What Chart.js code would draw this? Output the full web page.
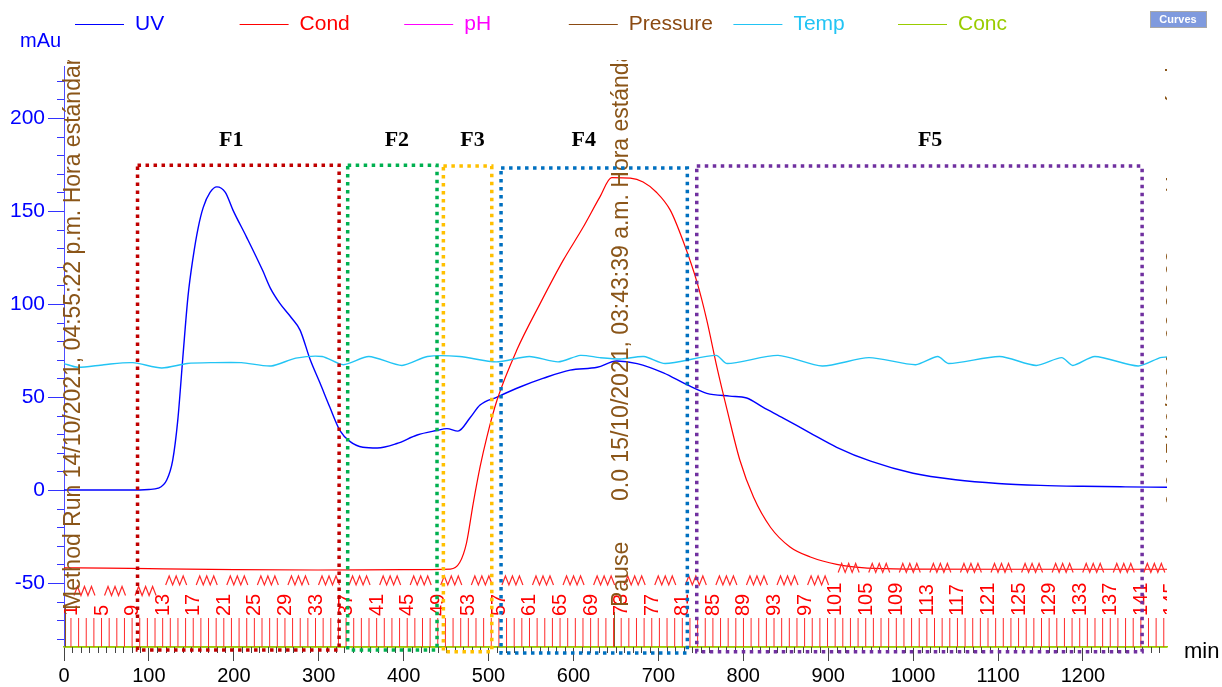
<!DOCTYPE html>
<html>
<head>
<meta charset="utf-8">
<title>Chromatogram</title>
<script src="https://cdn.jsdelivr.net/npm/chart.js@4.4.1/dist/chart.umd.min.js"></script>
<style>
  html, body { margin: 0; padding: 0; background: #fff; }
  #wrap { width: 1222px; height: 687px; }
</style>
</head>
<body>
<div id="wrap"><canvas id="chart" width="1222" height="687"></canvas></div>
<script>
// UV (mAu) vs time (min)
const uvTime  = [0, 40, 78, 100, 111, 121, 128, 134, 140, 146, 152, 158, 164, 172, 180, 190, 199, 215, 234, 243, 254, 268, 278, 290, 301.5, 313, 325, 337, 352, 369, 392, 416, 439, 451, 464, 478, 490, 510, 537, 564, 596, 628, 651, 675, 706, 734, 757, 784, 804, 823, 847, 879, 910, 950, 1000, 1050, 1100, 1150, 1200, 1250, 1299];
const uvValue = [0, 0, 0, 0.3, 1, 5.4, 16, 37.6, 71.5, 104, 125, 141, 152, 160, 163, 160, 150.5, 136, 118, 108.6, 100.5, 92.5, 86, 70, 57.5, 44.6, 32, 26, 23, 22.6, 25, 29.6, 32, 33, 31.7, 38.7, 45.7, 50, 55.4, 60, 64.5, 66, 69.4, 68, 63, 56.5, 52, 50.5, 49.5, 44.6, 38.7, 30.6, 23, 15.5, 9, 5.5, 3.5, 2.5, 2, 1.7, 1.5];

// Conductivity (drawn on the mAu scale as in the original)
const condTime  = [0, 50, 100, 200, 300, 400, 455, 466, 474, 482, 490, 498, 510, 533, 561, 588, 611, 631, 645, 667, 682, 698, 714, 729, 746, 757, 769, 781, 796, 812, 832, 855, 879, 910, 946, 1000, 1100, 1200, 1299];
const condValue = [-41.8, -42, -42.3, -42.8, -43, -42.8, -42.5, -39, -28.5, -7, 12.4, 28.5, 48.4, 75, 100.5, 123.6, 141, 157.5, 168, 167.7, 165.6, 160, 150.5, 134, 111, 91.4, 66, 43, 16, -3.8, -20, -30.6, -36, -40, -42, -42.5, -42.6, -42.6, -42.6];

// Temperature
const tempTime  = [0, 16, 47, 81, 115, 145, 175, 209, 244, 273, 304, 329, 359, 398, 428, 466, 509, 548, 582, 608, 631, 657, 683, 708, 768, 781, 841, 893, 948, 1003, 1029, 1042, 1102, 1145, 1175, 1188, 1214, 1265, 1291, 1299];
const tempValue = [68, 66, 67.4, 68.5, 65.6, 68, 68.5, 68.5, 66.7, 70.9, 71.8, 67.4, 71.8, 67, 71.8, 71.8, 68.9, 71.8, 68.9, 72.4, 71.2, 70.5, 71.8, 68, 72.4, 68, 72.4, 66.7, 71.2, 67.4, 71.8, 68, 71.8, 67, 71.2, 67, 71.8, 66.7, 71.2, 71.5];

// Concentration (% B)
const concTime  = [0, 1299];
const concValue = [0, 0];

// legend entries
const seriesNames = ['UV', 'Cond', 'pH', 'Pressure', 'Temp', 'Conc'];

// fraction collector
const fractionFirst = 8.2;   // min
const fractionWidth = 9;     // min
const fractionCount = 145;
const zigFromFraction = [1, 13, 101];
const zigLevel        = [-54.3, -48.6, -41.9];

// pooled fractions
const poolLabels = ['F1', 'F2', 'F3', 'F4', 'F5'];
const poolStart  = [86.6, 334.1, 446.8, 514.7, 745.2];
const poolEnd    = [324.0, 439.3, 503.8, 734.1, 1269.7];
const poolTop    = [174.7, 174.7, 174.2, 173.1, 174.2];
const poolBottom = [-86, -86, -87, -87.6, -87];
const poolLabelX = [197, 392, 481, 612, 1020];
const poolLabelY = 188;

// run log events
const eventTime    = [1.8, 648.3, 648.3, 1301];
const eventText    = ['Method Run 14/10/2021, 04:55:22 p.m. Hora estándar', 'Pause', '0.0 15/10/2021, 03:43:39 a.m. Hora estándar', '0.0 15/10/2021, 02:33:22 p.m. Hora estándar'];
const eventTextY   = [-64.5, -62.9, -5.9, -8.6];
const eventLineTop = [-61.8, -65.6, null, -65.6];

// axis ranges
const xMin = 0, xMax = 1299;
const yMin = -84.4, yMax = 228;

const SANS = '"Liberation Sans", Arial, sans-serif';
const colors = {
    UV: '#0000ff', Cond: '#ff0000', pH: '#ff00ff', Pressure: '#8b4a12', Temp: '#22c4f4', Conc: '#99cc00'
};
const poolColors = ['#c00000', '#00b050', '#ffc000', '#0070c0', '#7030a0'];
const brown = '#8a5518';

function pts(xs, ys) {
    return xs.map((t, i) => ({ x: t, y: ys[i] }));
}

function fracTime(k) {
    return fractionFirst + (k - 1) * fractionWidth;
}

const chromPlugin = {
    id: 'chrom',
    afterDraw(chart) {
        const ctx = chart.ctx;
        const a = chart.chartArea;
        const x = chart.scales.x;
        const y = chart.scales.y;

        // minor ticks
        ctx.save();
        ctx.lineWidth = 1;
        ctx.strokeStyle = '#3333ff';
        for (let v = -80; v <= 220; v += 10) {
            if (v % 50 === 0) continue;
            const py = Math.round(y.getPixelForValue(v)) + 0.5;
            ctx.beginPath(); ctx.moveTo(a.left - 7, py); ctx.lineTo(a.left, py); ctx.stroke();
        }
        ctx.strokeStyle = '#444';
        for (let v = 10; v < xMax; v += 10) {
            if (v % 100 === 0) continue;
            const px = Math.round(x.getPixelForValue(v)) + 0.5;
            ctx.beginPath(); ctx.moveTo(px, a.bottom); ctx.lineTo(px, a.bottom + 6); ctx.stroke();
        }
        ctx.restore();

        // fractions
        ctx.save();
        ctx.beginPath();
        ctx.rect(a.left, 0, a.right - a.left, chart.height);
        ctx.clip();
        ctx.strokeStyle = '#ff2a2a';
        ctx.lineWidth = 1;
        for (let k = 1; k <= fractionCount; k++) {
            const px = x.getPixelForValue(fracTime(k));
            ctx.beginPath(); ctx.moveTo(px, a.bottom - 29); ctx.lineTo(px, a.bottom); ctx.stroke();
        }
        ctx.fillStyle = '#ff0000';
        ctx.font = '20px ' + SANS;
        ctx.textAlign = 'left';
        ctx.textBaseline = 'alphabetic';
        for (let k = 1; k <= fractionCount; k += 4) {
            const px = x.getPixelForValue(fracTime(k));
            ctx.save();
            ctx.translate(px + 6, a.bottom - 31);
            ctx.rotate(-Math.PI / 2);
            ctx.fillText(String(k), 0, 0);
            ctx.restore();

            let lvl = zigLevel[0];
            zigFromFraction.forEach((f, i) => { if (k >= f) lvl = zigLevel[i]; });
            const yc = y.getPixelForValue(lvl);
            const x0 = px + 3;
            ctx.lineWidth = 1.2;
            ctx.beginPath();
            ctx.moveTo(x0, yc + 4.5);
            for (let p = 0; p < 3; p++) {
                ctx.lineTo(x0 + p * 7 + 3.5, yc - 4.5);
                ctx.lineTo(x0 + p * 7 + 7, yc + 4.5);
            }
            ctx.stroke();
        }
        ctx.restore();

        // log events
        ctx.save();
        ctx.beginPath();
        ctx.rect(a.left - 2, 60, a.right - a.left + 2, chart.height);
        ctx.clip();
        ctx.fillStyle = brown;
        ctx.strokeStyle = brown;
        ctx.font = '23px ' + SANS;
        ctx.textAlign = 'left';
        ctx.textBaseline = 'alphabetic';
        eventTime.forEach((t, i) => {
            const px = x.getPixelForValue(t);
            if (eventLineTop[i] !== null) {
                ctx.lineWidth = 1;
                ctx.beginPath();
                ctx.moveTo(px, y.getPixelForValue(eventLineTop[i]));
                ctx.lineTo(px, a.bottom);
                ctx.stroke();
            }
            ctx.save();
            ctx.translate(px + 14, y.getPixelForValue(eventTextY[i]));
            ctx.rotate(-Math.PI / 2);
            ctx.fillText(eventText[i], 0, 0);
            ctx.restore();
        });
        ctx.restore();

        // pooled fraction boxes
        ctx.save();
        ctx.lineWidth = 3.5;
        ctx.setLineDash([3.5, 4.5]);
        poolLabels.forEach((lab, i) => {
            const x1 = x.getPixelForValue(poolStart[i]);
            const x2 = x.getPixelForValue(poolEnd[i]);
            const y1 = y.getPixelForValue(poolTop[i]);
            const y2 = y.getPixelForValue(poolBottom[i]);
            ctx.strokeStyle = poolColors[i];
            ctx.strokeRect(x1, y1, x2 - x1, y2 - y1);
        });
        ctx.setLineDash([]);
        ctx.fillStyle = '#000';
        ctx.font = 'bold 22px "Liberation Serif", "Times New Roman", serif';
        ctx.textAlign = 'center';
        ctx.textBaseline = 'middle';
        poolLabels.forEach((lab, i) => {
            ctx.fillText(lab, x.getPixelForValue(poolLabelX[i]), y.getPixelForValue(poolLabelY));
        });
        ctx.restore();

        // legend
        ctx.save();
        ctx.font = '21px ' + SANS;
        ctx.textBaseline = 'middle';
        ctx.textAlign = 'left';
        seriesNames.forEach((name, i) => {
            const lx = 75 + i * 164.6;
            ctx.strokeStyle = colors[name];
            ctx.lineWidth = 1.2;
            ctx.beginPath(); ctx.moveTo(lx, 24.5); ctx.lineTo(lx + 49, 24.5); ctx.stroke();
            ctx.fillStyle = colors[name];
            ctx.fillText(name, lx + 60, 24);
        });
        ctx.fillStyle = '#0000ff';
        ctx.font = '20px ' + SANS;
        ctx.fillText('mAu', 20, 41);
        ctx.fillStyle = '#000';
        ctx.font = '22px ' + SANS;
        ctx.fillText('min', 1184, 652);

        // Curves button
        ctx.fillStyle = '#7f9ade';
        ctx.fillRect(1150, 11, 57, 17);
        ctx.strokeStyle = '#a8a8a8';
        ctx.lineWidth = 1;
        ctx.strokeRect(1150.5, 11.5, 56, 16);
        ctx.fillStyle = '#fff';
        ctx.font = 'bold 11px ' + SANS;
        ctx.textAlign = 'center';
        ctx.fillText('Curves', 1178, 20);
        ctx.restore();
    }
};

const chart = new Chart(document.getElementById('chart').getContext('2d'), {
    type: 'line',
    data: {
        datasets: [
            { label: 'Temp', data: pts(tempTime, tempValue), borderColor: colors.Temp, borderWidth: 1.4, tension: 0.25, yAxisID: 'y' },
            { label: 'Cond', data: pts(condTime, condValue), borderColor: colors.Cond, borderWidth: 1.2, cubicInterpolationMode: 'monotone', yAxisID: 'y' },
            { label: 'UV', data: pts(uvTime, uvValue), borderColor: colors.UV, borderWidth: 1.4, cubicInterpolationMode: 'monotone', yAxisID: 'y' },
            { label: 'pH', data: [], borderColor: colors.pH, yAxisID: 'y' },
            { label: 'Pressure', data: [], borderColor: colors.Pressure, yAxisID: 'y' },
            { label: 'Conc', data: pts(concTime, concValue), borderColor: colors.Conc, borderWidth: 1.5, yAxisID: 'yc', clip: 3 }
        ]
    },
    options: {
        responsive: false,
        animation: false,
        devicePixelRatio: 1,
        layout: { padding: { top: 66, right: 55, left: 0, bottom: 0 } },
        elements: { point: { radius: 0 } },
        plugins: { legend: { display: false }, tooltip: { enabled: false } },
        scales: {
            x: {
                type: 'linear',
                min: xMin,
                max: xMax,
                afterFit(s) { s.height = 40; },
                afterBuildTicks(s) {
                    const t = [];
                    for (let v = 0; v < xMax; v += 100) t.push({ value: v });
                    s.ticks = t;
                },
                grid: { drawOnChartArea: false, tickLength: 14, tickColor: '#444' },
                border: { color: colors.Conc, width: 1.5 },
                ticks: {
                    color: '#000', font: { size: 20, family: SANS }, padding: 3, maxRotation: 0, autoSkip: false,
                    callback: v => String(v)
                }
            },
            y: {
                min: yMin,
                max: yMax,
                afterFit(s) { s.width = 64; },
                afterBuildTicks(s) {
                    const t = [];
                    for (let v = -50; v <= 200; v += 50) t.push({ value: v });
                    s.ticks = t;
                },
                grid: { drawOnChartArea: false, tickLength: 16, tickColor: '#3333ff' },
                border: { color: '#4d4dff', width: 1 },
                ticks: { color: '#0000ff', font: { size: 21, family: SANS }, padding: 3, callback: v => String(v) }
            },
            yc: { display: false, min: 0, max: 100 }
        }
    },
    plugins: [chromPlugin]
});
</script>
</body>
</html>
